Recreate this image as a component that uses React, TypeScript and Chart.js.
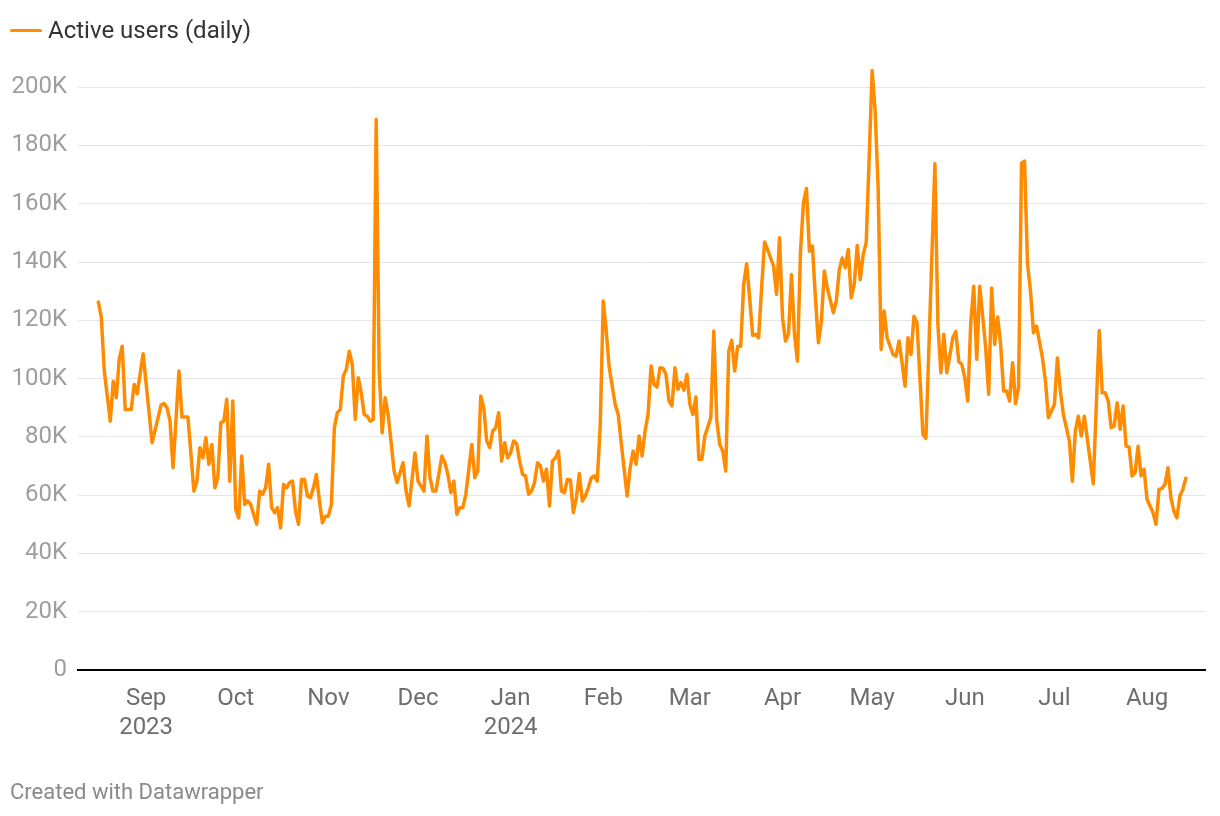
import React, { useEffect, useRef } from "react";
import { Chart, registerables } from "chart.js";

Chart.register(...registerables);

// Day offsets counted from 16 Aug 2023, and daily active users in thousands
const dayOffsets = [
  0, 1, 2, 4, 5, 6, 7, 8, 9, 11, 12, 13, 15, 18, 21, 22, 23, 24, 25, 27, 28, 30,
  32, 33, 34, 35, 36, 37, 38, 39, 40, 41, 42, 43, 44, 45, 46, 47, 48, 49, 50, 51,
  53, 54, 55, 56, 57, 58, 59, 60, 61, 62, 63, 64, 65, 66, 67, 68, 69, 70, 71, 72,
  73, 74, 75, 76, 77, 78, 79, 80, 81, 82, 83, 84, 85, 86, 87, 88, 89, 90, 91, 92,
  93, 94, 95, 96, 97, 99, 100, 102, 103, 104, 106, 107, 109, 110, 111, 112, 113,
  115, 116, 117, 118, 119, 120, 121, 122, 123, 125, 126, 127, 128, 129, 130, 131,
  132, 133, 134, 135, 136, 137, 138, 139, 140, 141, 142, 143, 144, 145, 146, 147,
  148, 149, 150, 151, 152, 153, 154, 155, 156, 157, 158, 159, 160, 161, 162, 163,
  164, 165, 166, 167, 168, 169, 170, 171, 173, 174, 175, 177, 178, 179, 180, 181,
  182, 183, 184, 185, 186, 187, 188, 189, 190, 191, 192, 193, 194, 195, 196, 197,
  198, 199, 200, 201, 202, 203, 205, 206, 207, 208, 209, 210, 211, 212, 213, 214,
  215, 216, 217, 218, 219, 220, 221, 222, 223, 224, 226, 227, 228, 229, 230, 231,
  232, 233, 234, 235, 236, 237, 238, 239, 240, 241, 242, 243, 244, 246, 247, 248,
  249, 250, 251, 252, 253, 254, 255, 256, 257, 258, 259, 260, 261, 262, 263, 264,
  266, 267, 268, 269, 270, 271, 272, 273, 274, 276, 277, 280, 281, 282, 283, 284,
  286, 287, 288, 289, 290, 291, 292, 293, 294, 295, 297, 298, 299, 300, 301, 302,
  303, 304, 305, 306, 307, 308, 309, 310, 311, 312, 313, 314, 316, 317, 318, 320,
  321, 322, 323, 325, 326, 327, 328, 329, 330, 332, 333, 335, 336, 337, 338, 339,
  340, 341, 342, 343, 344, 345, 346, 347, 348, 349, 350, 351, 352, 353, 354, 355,
  356, 357, 358, 359, 360, 361, 362, 363, 364,
];

const activeUsersK = [
  126.3, 121, 102.6, 85.4, 99.1, 93.4, 106.6, 111.1, 89.4, 89.4, 98, 94.8, 108.5, 78, 90.9, 91.4, 90, 85.4, 69.4, 102.6, 86.8, 86.8,
  61.4, 64.8, 76.3, 72.8, 79.7, 70.6, 77.4, 62.5, 66, 84.8, 85.4, 92.9, 64.8, 92.3, 55.1, 52.2, 73.4, 56.8, 58, 56.8,
  50, 61.4, 60.3, 62.5, 70.6, 55.7, 54, 55.7, 48.8, 63.7, 62.5, 64.3, 64.8, 54.5, 50, 65.4, 65.4, 59.7, 59.1, 62.5,
  67.1, 58, 50.5, 52.8, 52.8, 56.8, 83.1, 88.3, 89.4, 100.9, 103.1, 109.4, 104.9, 86, 100.3, 95.1, 87.7, 87.1, 85.4, 86,
  188.9, 103, 81.4, 93.4, 87.7, 68.3, 64.3, 71.1, 61.4, 56.3, 74.5, 64.8, 61.4, 80.3, 66, 61.4, 61.4,
  73.4, 71.1, 67.1, 60.8, 64.8, 53.4, 55.7, 55.7, 60.3, 77.4, 66, 68.3, 94, 90, 78.6, 76.3,
  82, 83.1, 88.3, 71.7, 78, 72.8, 74.5, 78.6, 77.7, 71.7, 67.1, 66.6, 60.3, 61.4, 64.3, 71.1,
  70, 64.8, 68.9, 56.3, 71.7, 72.8, 75.1, 61.4, 60.8, 65.4, 65.2, 54, 59.1, 67.4, 58, 59.7,
  62.5, 66, 66.6, 64.8, 84.3, 126.6, 116.3, 103.7, 91.1, 87.7, 78, 59.7, 69.4, 75.1, 70.6, 80.3,
  73.4, 82, 87.7, 104.3, 98, 97.1, 103.7, 103.5, 101.4, 92.3, 90.6, 103.7, 96.3, 98.6, 96, 101.4,
  91.1, 87.7, 93.7, 72.3, 72.3, 80.3, 86.6, 116.3, 85.4, 77.4, 75.1, 68.3, 109.4, 113.1, 102.6, 111.1,
  111.1, 132.3, 139.4, 127.7, 114.8, 115.2, 114, 131.1, 146.9, 144.3, 138.6, 128.9, 148.3, 120.9, 112.9, 115.2,
  135.7, 115.2, 106, 143.2, 160.3, 165.2, 143.7, 145.5, 127.7, 112.3, 119.7, 136.9, 131.1, 122.6, 126.6, 137.4,
  141.4, 138, 144.3, 127.7, 132.3, 145.7, 134, 142.6, 146.6, 175.7, 205.7, 191.8, 165.5, 110, 123.2, 114,
  108.3, 107.7, 112.9, 105.4, 97.4, 114, 108.3, 121.4, 119.2, 80.8, 79.5, 173.7, 118.6, 102, 115.2, 102,
  114, 116.1, 105.8, 104.9, 100.3, 92.3, 119.2, 131.7, 106.6, 131.7, 110.6, 94.6, 131.1, 111.7, 121.1, 111.7,
  95.7, 95.7, 92.3, 105.4, 91.4, 96.9, 174, 174.6, 139.2, 130, 115.7, 118, 107.1, 99.1, 86.6, 91.1,
  107.1, 95.7, 87.7, 78.6, 64.8, 82, 87.1, 80.3, 87.1, 71.7, 63.9, 116.5, 95.1, 95.1, 92.3, 83.1,
  83.7, 91.7, 82.6, 90.6, 76.8, 76.5, 66.6, 67.7, 76.8, 66.6, 68.9, 58.6, 56.3, 54, 50, 62,
  62.3, 63.7, 69.4, 59.1, 54.5, 52.2, 59.7, 62, 65.8,
];

const monthTickDays = [16, 46, 77, 107, 138, 169, 198, 229, 259, 290, 320, 351];
const monthTickLabels: (string | string[])[] = [
  ["Sep", "2023"], "Oct", "Nov", "Dec", ["Jan", "2024"], "Feb", "Mar", "Apr", "May", "Jun", "Jul", "Aug",
];
const yTicksK = [0, 20, 40, 60, 80, 100, 120, 140, 160, 180, 200];

const seriesLabel = "Active users (daily)";
const lineColor = "#ff8c00";
const FONT = "Roboto, 'Noto Sans', sans-serif";

export default function App() {
  const ref = useRef<HTMLCanvasElement>(null);

  useEffect(() => {
    document.body.style.margin = "0";
    const canvas = ref.current;
    if (!canvas) return;
    const chart = new Chart(canvas, {
      type: "line",
      data: {
        datasets: [
          {
            label: seriesLabel,
            data: dayOffsets.map((d, i) => ({ x: d, y: activeUsersK[i] })),
            borderColor: lineColor,
            borderWidth: 3.5,
            pointRadius: 0,
            tension: 0,
            borderJoinStyle: "round",
            borderCapStyle: "round",
          },
        ],
      },
      options: {
        animation: false,
        responsive: false,
        devicePixelRatio: 1,
        layout: { padding: { top: 58, right: 15, left: 0, bottom: 0 } },
        plugins: { legend: { display: false }, tooltip: { enabled: false } },
        scales: {
          x: {
            type: "linear",
            min: -6.8,
            max: 370.4,
            afterFit: (s: any) => {
              s.height = 146;
            },
            afterBuildTicks: (s: any) => {
              s.ticks = monthTickDays.map((v) => ({ value: v }));
            },
            grid: { display: false, drawTicks: false },
            border: { display: true, color: "#000000", width: 2 },
            ticks: {
              autoSkip: false,
              maxRotation: 0,
              padding: 15,
              color: "#6e6e6e",
              font: { family: FONT, size: 24, lineHeight: 1.2 },
              callback: (_v: any, i: number) => monthTickLabels[i],
            },
          },
          y: {
            min: 0,
            max: 210,
            afterFit: (s: any) => {
              s.width = 78;
            },
            afterBuildTicks: (s: any) => {
              s.ticks = yTicksK.map((v) => ({ value: v }));
            },
            grid: { color: "#e5e5e5", lineWidth: 1, drawTicks: false },
            border: { display: false },
            ticks: {
              padding: 11,
              color: "#9e9e9e",
              font: { family: FONT, size: 24 },
              callback: (v: any) => (v === 0 ? "0" : `${v}K`),
            },
          },
        },
      },
    });
    return () => chart.destroy();
  }, []);

  return (
    <div style={{ position: "relative", width: 1220, height: 816, fontFamily: FONT, background: "#fff" }}>
      <canvas ref={ref} width={1220} height={816} style={{ position: "absolute", left: 0, top: 0, display: "block" }} />
      <div
        style={{
          position: "absolute",
          left: 10,
          top: 16,
          height: 28,
          display: "flex",
          alignItems: "center",
          fontSize: 24,
          color: "#333",
        }}
      >
        <span style={{ display: "inline-block", width: 32, height: 3, background: lineColor, borderRadius: 2, marginRight: 6 }} />
        <span>{seriesLabel}</span>
      </div>
      <div style={{ position: "absolute", left: 10, top: 778, fontSize: 22, color: "#8a8a8a", lineHeight: "28px" }}>
        Created with Datawrapper
      </div>
    </div>
  );
}
